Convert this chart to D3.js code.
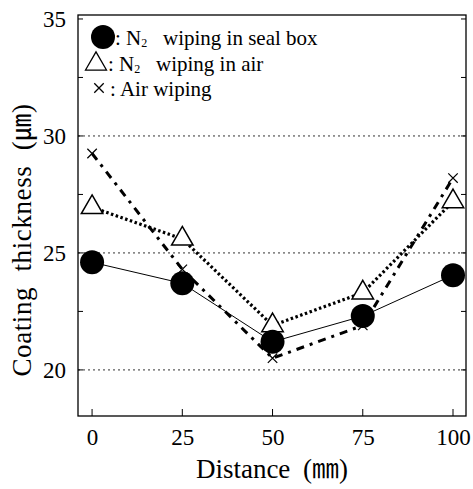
<!DOCTYPE html>
<html>
<head>
<meta charset="utf-8">
<script src="https://cdn.jsdelivr.net/npm/d3@7"></script>
<style>
  body { margin: 0; background: #fff; }
  text { font-family: "Liberation Serif", "Times New Roman", "Noto Sans CJK JP", serif; fill: #000; }
</style>
</head>
<body>
<svg width="473" height="489"></svg>
<script>
const distances = [0, 25, 50, 75, 100];
const sealBox = [24.6, 23.7, 21.2, 22.3, 24.05];
const inAir = [26.95, 25.6, 21.9, 23.3, 27.2];
const airWiping = [29.25, 24.3, 20.5, 21.9, 28.2];
const yTicks = [20, 25, 30, 35];
const yMinor = [22.5, 27.5, 32.5];

const svg = d3.select('svg');
const plotL = 78, plotR = 466, plotT = 15, plotB = 416;

const x = d3.scaleLinear().domain([-3.9, 103.6]).range([plotL, plotR]);
const y = d3.scaleLinear().domain([18.03, 35.17]).range([plotB, plotT]);

// dotted gridlines
svg.append('g')
  .selectAll('line')
  .data([20, 25, 30])
  .enter()
  .append('line')
  .attr('x1', plotL).attr('x2', plotR)
  .attr('y1', d => y(d)).attr('y2', d => y(d))
  .attr('stroke', '#333')
  .attr('stroke-width', 1)
  .attr('stroke-dasharray', '2,3');

// frame
svg.append('rect')
  .attr('x', plotL).attr('y', plotT)
  .attr('width', plotR - plotL).attr('height', plotB - plotT)
  .attr('fill', 'none').attr('stroke', '#000').attr('stroke-width', 1.3);

// y axis labels + inward ticks
const yAxis = d3.axisLeft(y).tickValues(yTicks).tickSize(0).tickPadding(12);
svg.append('g')
  .attr('transform', `translate(${plotL},0)`)
  .call(yAxis)
  .call(g => g.select('.domain').remove())
  .selectAll('text')
  .attr('font-size', 23);

svg.append('g')
  .selectAll('line')
  .data(yTicks.concat(yMinor))
  .enter()
  .append('line')
  .attr('x1', plotL).attr('x2', plotL + 5)
  .attr('y1', d => y(d)).attr('y2', d => y(d))
  .attr('stroke', '#000');

svg.append('g')
  .selectAll('line')
  .data(yTicks.concat(yMinor))
  .enter()
  .append('line')
  .attr('x1', plotR).attr('x2', plotR - 5)
  .attr('y1', d => y(d)).attr('y2', d => y(d))
  .attr('stroke', '#000');

// x axis labels + inward ticks
const xAxis = d3.axisBottom(x).tickValues(distances).tickSize(0).tickPadding(13);
svg.append('g')
  .attr('transform', `translate(0,${plotB})`)
  .call(xAxis)
  .call(g => g.select('.domain').remove())
  .selectAll('text')
  .attr('font-size', 23);

svg.append('g')
  .selectAll('line')
  .data(distances)
  .enter()
  .append('line')
  .attr('x1', d => x(d)).attr('x2', d => x(d))
  .attr('y1', plotB).attr('y2', plotB - 7)
  .attr('stroke', '#000');

// axis titles
svg.append('text')
  .attr('x', 272)
  .attr('y', 478)
  .attr('text-anchor', 'middle')
  .attr('font-size', 27)
  .attr('word-spacing', 6)
  .text('Distance (㎜)');

svg.append('text')
  .attr('transform', `translate(31,240) rotate(-90)`)
  .attr('text-anchor', 'middle')
  .attr('font-size', 27)
  .attr('word-spacing', 8)
  .attr('letter-spacing', 0.6)
  .text('Coating thickness (㎛)');

const line = d3.line().x((d, i) => x(distances[i])).y(d => y(d));

svg.append('path')
  .attr('d', line(airWiping))
  .attr('fill', 'none').attr('stroke', '#000')
  .attr('stroke-width', 3)
  .attr('stroke-dasharray', '8,6,3,6');

svg.append('path')
  .attr('d', line(inAir))
  .attr('fill', 'none').attr('stroke', '#000')
  .attr('stroke-width', 3.2)
  .attr('stroke-dasharray', '2.5,2.5');

svg.append('path')
  .attr('d', line(sealBox))
  .attr('fill', 'none').attr('stroke', '#000')
  .attr('stroke-width', 1);

const tri = d3.symbol().type(d3.symbolTriangle).size(200);

svg.append('g')
  .selectAll('path')
  .data(inAir)
  .enter()
  .append('path')
  .attr('d', tri)
  .attr('transform', (d, i) => `translate(${x(distances[i])},${y(d)})`)
  .attr('fill', '#fff').attr('stroke', '#000').attr('stroke-width', 1.5);

svg.append('g')
  .selectAll('circle')
  .data(sealBox)
  .enter()
  .append('circle')
  .attr('cx', (d, i) => x(distances[i]))
  .attr('cy', d => y(d))
  .attr('r', 12)
  .attr('fill', '#000');

const cross = d3.symbol().type(d3.symbolX).size(60);
svg.append('g')
  .selectAll('path')
  .data(airWiping)
  .enter()
  .append('path')
  .attr('d', cross)
  .attr('transform', (d, i) => `translate(${x(distances[i])},${y(d)})`)
  .attr('fill', 'none').attr('stroke', '#000').attr('stroke-width', 1.2);

// legend
const legend = svg.append('g');
legend.append('circle').attr('cx', 103).attr('cy', 37).attr('r', 12).attr('fill', '#000');
legend.append('path').attr('d', d3.symbol().type(d3.symbolTriangle).size(190))
  .attr('transform', 'translate(96,64)')
  .attr('fill', '#fff').attr('stroke', '#000').attr('stroke-width', 1.3);
legend.append('path').attr('d', d3.symbol().type(d3.symbolX).size(60))
  .attr('transform', 'translate(99,88)')
  .attr('fill', 'none').attr('stroke', '#000').attr('stroke-width', 1.3);

const legendRows = [
  { y: 45, x: 115, label: 'N', sub: '2', rest: '  wiping in seal box' },
  { y: 71, x: 108, label: 'N', sub: '2', rest: '  wiping in air' },
  { y: 96, x: 110, label: '', sub: '', rest: 'Air wiping' }
];
legendRows.forEach(r => {
  const t = legend.append('text')
    .attr('x', r.x).attr('y', r.y)
    .attr('font-size', 21)
    .attr('xml:space', 'preserve');
  t.append('tspan').text(': ' + r.label);
  if (r.sub) {
    t.append('tspan').attr('font-size', 12).attr('dy', 2).text(r.sub);
    t.append('tspan').attr('dy', -2).text(' ' + r.rest);
  } else {
    t.append('tspan').text(r.rest);
  }
});
</script>
</body>
</html>
